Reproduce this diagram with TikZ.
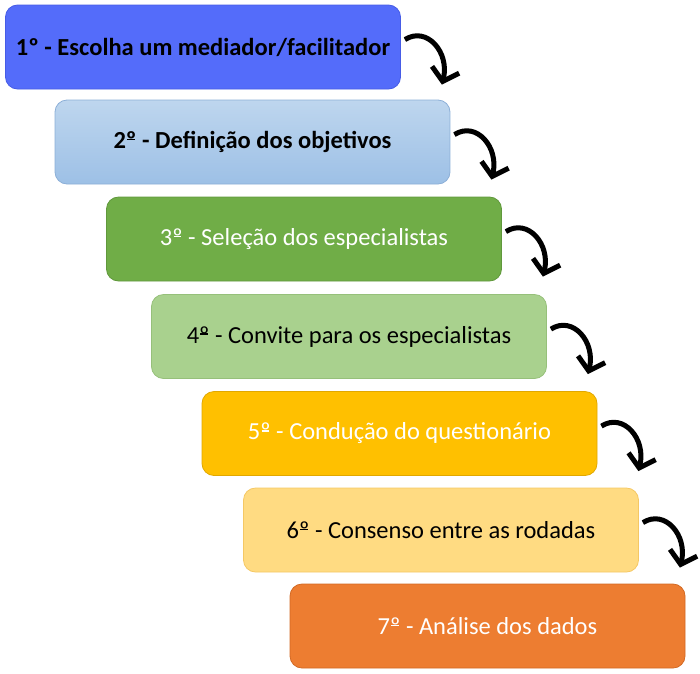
\documentclass[tikz,border=0pt]{standalone}
\usepackage{fontspec}
\setmainfont{Carlito}
\usetikzlibrary{arrows.meta,calc}
\definecolor{c1}{RGB}{84,108,250}
\definecolor{c1d}{RGB}{70,92,230}
\definecolor{c2t}{RGB}{190,214,238}
\definecolor{c2b}{RGB}{157,192,230}
\definecolor{c2d}{RGB}{140,175,215}
\definecolor{c3}{RGB}{112,173,71}
\definecolor{c3d}{RGB}{96,152,60}
\definecolor{c4}{RGB}{169,209,142}
\definecolor{c4d}{RGB}{150,192,122}
\definecolor{c5}{RGB}{255,192,0}
\definecolor{c5d}{RGB}{225,168,0}
\definecolor{c6}{RGB}{255,219,130}
\definecolor{c6d}{RGB}{245,200,100}
\definecolor{c7}{RGB}{237,125,49}
\definecolor{c7d}{RGB}{210,105,35}
\newcommand\myord{\ooalign{º\cr\hidewidth\rule[0.33em]{0.32em}{0.06em}\hidewidth\cr}}
\tikzset{
  stepbox/.style={rounded corners=12pt, minimum width=395pt, minimum height=84pt,
    font=\fontsize{24.5}{28}\selectfont, line width=0.8pt, inner sep=0pt},
  curvearrow/.style={line width=5pt,
    -{Straight Barb[length=12pt,width=28pt,line width=5pt]}}
}
\begin{document}
\begin{tikzpicture}[x=1pt,y=-1pt]
\useasboundingbox (0,0) rectangle (700,673);
\node[stepbox, fill=c1, draw=c1d, text=black] (b1) at (203,47) {\bfseries 1º - Escolha um mediador/facilitador};
\node[stepbox, top color=c2t, bottom color=c2b, draw=c2d, text=black] (b2) at (252.5,142) {\bfseries 2\myord{} - Definição dos objetivos};
\node[stepbox, fill=c3, draw=c3d, text=white] (b3) at (304,239) {3\myord{} - Seleção dos especialistas};
\node[stepbox, fill=c4, draw=c4d, text=black] (b4) at (349,336.5) {4\myord{} - Convite para os especialistas};
\node[stepbox, fill=c5, draw=c5d, text=white] (b5) at (399.5,433.5) {5\myord{} - Condução do questionário};
\node[stepbox, fill=c6, draw=c6d, text=black] (b6) at (441,530) {6\myord{} - Consenso entre as rodadas};
\node[stepbox, fill=c7, draw=c7d, text=white] (b7) at (487.5,626) {7\myord{} - Análise dos dados};
\foreach \b in {b1,b2,b3,b4,b5,b6}{
  \coordinate (\b s) at ($(\b.north east)+(4,35)$);
  \coordinate (\b e) at ($(\b.north east)+(41,80)$);
  \draw[curvearrow] (\b s) .. controls +(22,-14) and +(8,-32) .. (\b e);
}
\end{tikzpicture}
\end{document}
